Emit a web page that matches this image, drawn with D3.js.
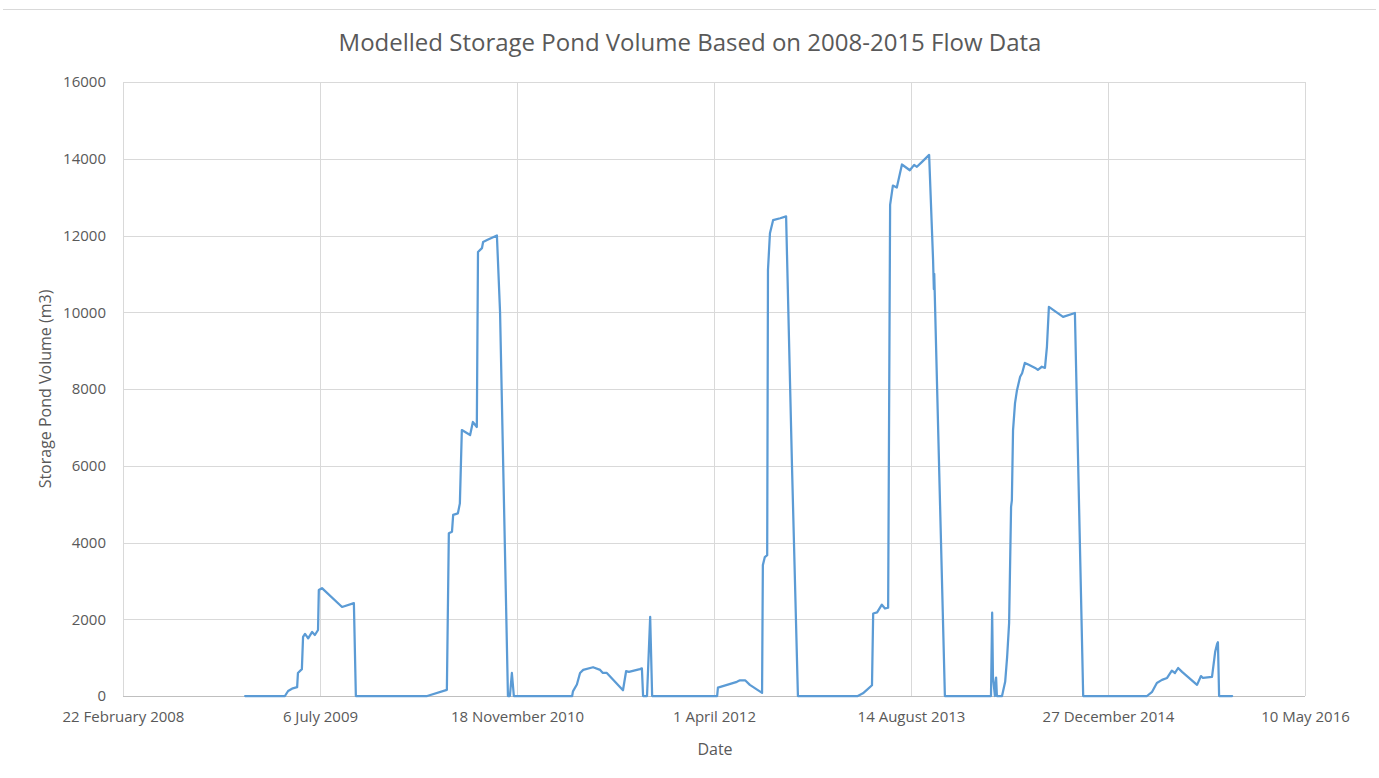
<!DOCTYPE html>
<html>
<head>
<meta charset="utf-8">
<script src="https://cdn.jsdelivr.net/npm/d3@7"></script>
<style>
  html, body { margin: 0; padding: 0; background: #fff; }
  svg text { font-family: "Open Sans", "Noto Sans", sans-serif; fill: #595959; }
</style>
</head>
<body>
<svg id="chart" width="1379" height="778"></svg>
<script>
// ---- Data ----
const title = "Modelled Storage Pond Volume Based on 2008-2015 Flow Data";
const xLabel = "Date";
const yLabel = "Storage Pond Volume (m3)";
const xTickDates = ["2008-02-22","2009-07-06","2010-11-18","2012-04-01","2013-08-14","2014-12-27","2016-05-10"];
const xTickLabels = ["22 February 2008","6 July 2009","18 November 2010","1 April 2012","14 August 2013","27 December 2014","10 May 2016"];
const yTicks = [0,2000,4000,6000,8000,10000,12000,14000,16000];

const dates = [
  "2008-12-28","2009-04-08","2009-04-16","2009-04-28","2009-05-09","2009-05-11","2009-05-21","2009-05-24","2009-05-29","2009-06-06","2009-06-16","2009-06-23","2009-07-01","2009-07-03","2009-07-11","2009-08-31","2009-09-30","2009-10-05",
  "2010-04-04","2010-05-24","2010-05-29","2010-06-06","2010-06-09","2010-06-21","2010-06-26","2010-07-01","2010-07-22","2010-07-29","2010-08-08","2010-08-11","2010-08-21","2010-08-24","2010-09-03","2010-09-28","2010-10-06","2010-10-26","2010-10-31","2010-11-05","2010-11-10",
  "2011-04-07","2011-04-09","2011-04-19","2011-04-27","2011-05-05","2011-05-30","2011-06-17","2011-06-24","2011-07-04","2011-08-14","2011-08-22","2011-08-29","2011-09-26","2011-10-01","2011-10-04","2011-10-14","2011-10-22","2011-10-27",
  "2012-04-09","2012-04-11","2012-05-04","2012-05-29","2012-06-06","2012-06-19","2012-07-01","2012-08-01","2012-08-03","2012-08-08","2012-08-14","2012-08-16","2012-08-21","2012-08-29","2012-09-16","2012-10-01","2012-10-16","2012-10-31",
  "2013-04-01","2013-04-14","2013-04-24","2013-05-07","2013-05-10","2013-05-20","2013-06-01","2013-06-09","2013-06-17","2013-06-22","2013-06-29","2013-07-09","2013-07-22","2013-08-11","2013-08-22","2013-08-29","2013-09-11","2013-09-29","2013-10-09","2013-10-11","2013-10-12","2013-11-08",
  "2014-03-05","2014-03-08","2014-03-10","2014-03-15","2014-03-18","2014-03-20","2014-04-02","2014-04-10","2014-04-15","2014-04-20","2014-04-25","2014-04-27","2014-04-30","2014-05-05","2014-05-10","2014-05-18","2014-05-23","2014-05-30","2014-06-09","2014-06-25","2014-07-02","2014-07-12","2014-07-20","2014-07-25","2014-07-30","2014-09-04","2014-10-04","2014-10-25",
  "2015-04-05","2015-04-18","2015-04-30","2015-05-13","2015-05-26","2015-06-07","2015-06-15","2015-06-23","2015-07-03","2015-08-10","2015-08-20","2015-08-25","2015-09-17","2015-09-25","2015-09-30","2015-10-02","2015-10-05","2015-11-07"
];
const volumes = [
  0,0,130,200,230,600,700,1540,1620,1500,1670,1590,1720,2760,2810,2320,2420,0,
  0,160,4240,4280,4720,4760,5020,6930,6800,7140,7010,11570,11670,11830,11880,12000,10000,0,0,600,0,
  0,120,300,600,680,750,680,600,600,150,650,630,700,720,0,0,2060,0,
  0,220,290,370,410,410,290,80,3410,3620,3670,11100,12060,12400,12450,12500,5970,0,
  0,70,160,280,2150,2180,2380,2280,2300,12800,13300,13250,13850,13700,13840,13790,13920,14100,11370,10600,11000,0,
  0,2170,500,0,480,0,0,370,1020,1900,4930,5100,6930,7630,7970,8320,8410,8680,8630,8550,8500,8580,8550,9100,10140,9880,9980,0,
  0,110,340,420,470,660,600,730,630,290,520,470,500,1150,1360,1400,0,0
];

// ---- Layout ----
const svg = d3.select("#chart");
const W = 1379, H = 778;
const m = {left: 123, right: 1379 - 1305, top: 82, bottom: 778 - 696};
const parse = d3.utcParse("%Y-%m-%d");
const series = dates.map((d, i) => ({date: parse(d), v: volumes[i]}));
const tickDates = xTickDates.map(parse);

const x = d3.scaleUtc().domain([tickDates[0], tickDates[tickDates.length - 1]]).range([m.left, W - m.right]);
const y = d3.scaleLinear().domain([0, 16000]).range([H - m.bottom, m.top]);

// top separator line
svg.append("line").attr("x1", 3).attr("x2", W - 3).attr("y1", 9.5).attr("y2", 9.5)
  .attr("stroke", "#d9d9d9").attr("stroke-width", 1);

// horizontal gridlines
svg.append("g").selectAll("line").data(yTicks.slice(1)).join("line")
  .attr("x1", m.left).attr("x2", W - m.right)
  .attr("y1", d => Math.round(y(d)) + 0.5).attr("y2", d => Math.round(y(d)) + 0.5)
  .attr("stroke", "#d9d9d9").attr("stroke-width", 1);

// vertical gridlines
svg.append("g").selectAll("line").data(tickDates).join("line")
  .attr("x1", d => Math.round(x(d)) + 0.5).attr("x2", d => Math.round(x(d)) + 0.5)
  .attr("y1", m.top).attr("y2", H - m.bottom)
  .attr("stroke", "#d9d9d9").attr("stroke-width", 1);

// x axis baseline
svg.append("line").attr("x1", m.left).attr("x2", W - m.right)
  .attr("y1", Math.round(y(0)) + 0.5).attr("y2", Math.round(y(0)) + 0.5)
  .attr("stroke", "#bfbfbf").attr("stroke-width", 1);

// y tick labels
const yAxis = d3.axisLeft(y).tickValues(yTicks).tickSize(0).tickPadding(17).tickFormat(d3.format("d"));
const gy = svg.append("g").attr("transform", `translate(${m.left},0)`).call(yAxis);
gy.select(".domain").remove();
gy.selectAll("text").attr("font-size", "15px").attr("fill", "#595959")
  .style("font-family", "'Open Sans', sans-serif");

// x tick labels
const xAxis = d3.axisBottom(x).tickValues(tickDates).tickSize(0).tickPadding(15)
  .tickFormat((d, i) => xTickLabels[i]);
const gx = svg.append("g").attr("transform", `translate(0,${H - m.bottom})`).call(xAxis);
gx.select(".domain").remove();
gx.selectAll("text").attr("font-size", "15px").attr("fill", "#595959")
  .style("font-family", "'Open Sans', sans-serif");

// line
const line = d3.line().x(d => x(d.date)).y(d => y(d.v));
svg.append("path").datum(series).attr("d", line)
  .attr("fill", "none").attr("stroke", "#5b9bd5").attr("stroke-width", 2.25)
  .attr("stroke-linejoin", "round").attr("stroke-linecap", "round");

// title
svg.append("text").attr("x", 690).attr("y", 51).attr("text-anchor", "middle")
  .attr("font-size", "24px").text(title);

// axis titles
svg.append("text").attr("x", 715).attr("y", 755).attr("text-anchor", "middle")
  .attr("font-size", "16px").text(xLabel);
svg.append("text").attr("transform", `translate(51,389) rotate(-90)`).attr("text-anchor", "middle")
  .attr("font-size", "16px").text(yLabel);
</script>
</body>
</html>
